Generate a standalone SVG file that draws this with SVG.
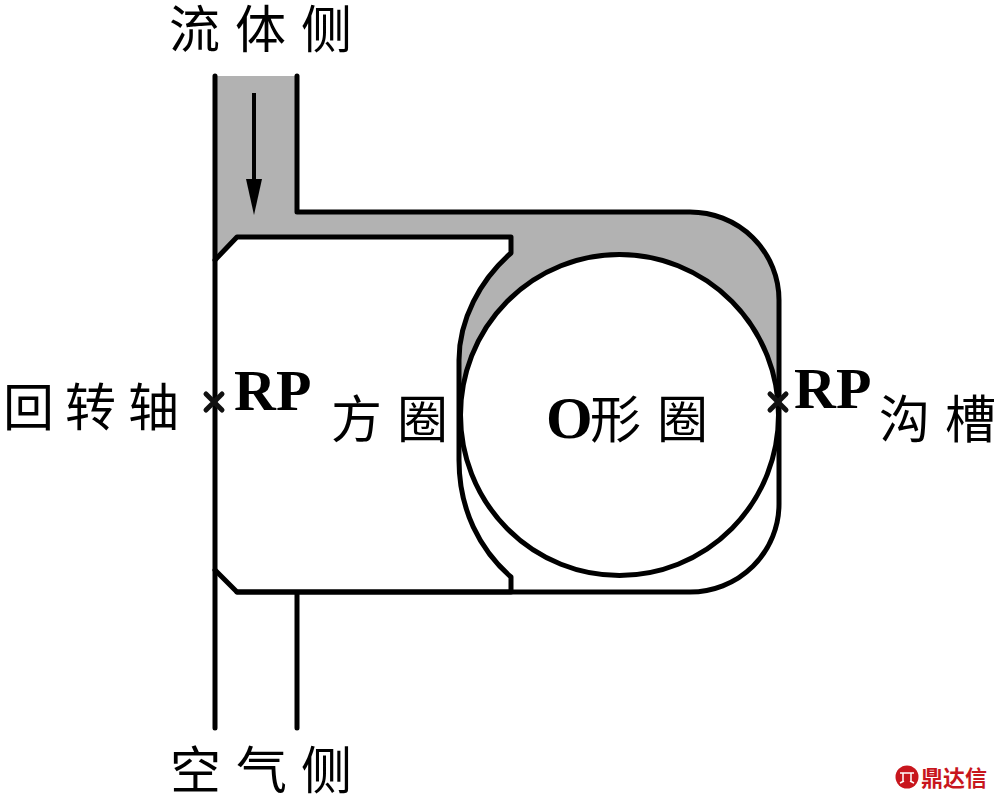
<svg xmlns="http://www.w3.org/2000/svg" width="997" height="801" viewBox="0 0 997 801">
<style>
.l{fill:none;stroke:#000;stroke-width:5;stroke-linejoin:round;stroke-linecap:round}
.t{font-family:"Liberation Serif","Noto Sans CJK SC",serif;font-size:51px;font-weight:400;fill:#000}
.b{font-family:"Liberation Serif",serif;font-weight:bold;fill:#000}
.m{fill:none;stroke:#111;stroke-width:5;stroke-linecap:round}
</style>
<defs><path id="x" d="M-8-8L8 8M8-8L-8 8" class="m"/></defs>
<rect width="997" height="801" fill="#fff"/>
<g id="fluid">
<path fill="#b2b2b2" d="M215 76H297V212H690A89 88 0 0 1 779 300V410L461 410V360C461 320 480 280 511 253V237H237L215 260Z"/>
</g>
<g id="groove-ring">
<path class="l" d="M215 76V728M297 76V212H690A89 88 0 0 1 779 300V504A89 88 0 0 1 690 592H237M297 592V728"/>
</g>
<g id="square-ring">
<path class="l" d="M215 260L237 237H511V253C480 280 459 320 459 360V460C459 510 480 550 511 577V592H237L215 570"/>
</g>
<g id="o-ring">
<ellipse cx="619.500" cy="415" rx="159" ry="160.500" fill="#fff" stroke="#000" stroke-width="5"/>
</g>
<g id="connectors">
<path d="M254 93V182" fill="none" stroke="#000" stroke-width="4"/>
<path d="M246 179H262L254 215Z" fill="#000"/>
</g>
<g id="rp-left"><use href="#x" x="214" y="402"/><text class="b" x="234" y="410" font-size="58">RP</text></g>
<g id="rp-right"><use href="#x" x="778" y="402"/><text class="b" x="794" y="408" font-size="58">RP</text></g>
<g id="labels">
<text class="t" x="169 235 301" y="48">流体侧</text>
<text class="t" x="3 65 128" y="426">回转轴</text>
<text class="t" x="331 397" y="438">方圈</text>
<text class="t" x="879 945" y="438">沟槽</text>
<text class="t" x="170 236 301" y="789">空气侧</text>
<text class="b" x="546" y="438" font-size="60">O</text>
<text class="t" x="590 657" y="438">形圈</text>
</g>
<g id="watermark">
<circle cx="907" cy="777" r="11.500" fill="#c8161d"/>
<path d="M900 773h14M903 773v9M911 773v9M900 783l4-2M914 783l-4-2" fill="none" stroke="#fff" stroke-width="1.500"/>
<text x="921" y="786" font-family="'Noto Sans CJK SC',sans-serif" font-size="22" font-weight="700" fill="#c8161d">鼎达信</text>
</g>
</svg>
